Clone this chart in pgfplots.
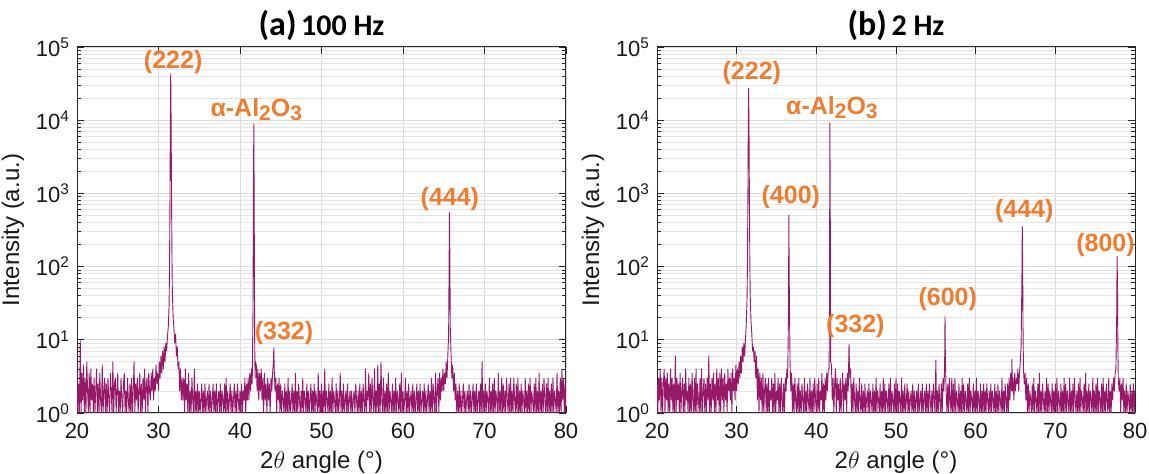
\documentclass[border=0pt]{standalone}
\usepackage{fontspec}
\setmainfont{Liberation Sans}
\newfontfamily\titlefont{Carlito}
\usepackage{pgfplots}
\pgfplotsset{compat=1.18}
\definecolor{xrdline}{RGB}{150,25,105}
\definecolor{lab}{RGB}{237,125,49}
\definecolor{axc}{RGB}{38,38,38}
\tikzset{pk/.style={font=\fontsize{12.5}{14}\selectfont\bfseries, text=lab, inner sep=0pt}}
\newcommand{\sub}[1]{\raisebox{-0.3ex}{\fontsize{10.5}{11}\selectfont #1}}
\begin{document}
\begin{tikzpicture}
\path[use as bounding box] (0pt,0pt) rectangle (574.5pt,237pt);
\begin{axis}[at={(38.5pt,30.5pt)}, anchor=south west,
  scale only axis, width=244.5pt, height=183pt,
  ymode=log, xmin=20, xmax=80, ymin=1, ymax=1e5,
  xtick={20,30,...,80},
  ytick={1,10,100,1000,10000,100000},
  yticklabels={10\textsuperscript{0},10\textsuperscript{1},10\textsuperscript{2},10\textsuperscript{3},10\textsuperscript{4},10\textsuperscript{5}},
  grid=both,
  major grid style={draw=black!14, line width=0.4pt},
  minor grid style={draw=black!10, line width=0.35pt},
  tick align=inside,
  axis line style={draw=axc, line width=0.5pt},
  major tick style={draw=axc, line width=0.45pt},
  minor tick style={draw=axc, line width=0.35pt},
  major tick length=3.5pt, minor tick length=2pt,
  tick label style={font=\fontsize{11}{12}\selectfont, text=black!90},
  xticklabel style={yshift=-1.5pt},
  label style={font=\fontsize{12}{14}\selectfont, text=black!90},
  xlabel={2$\theta$ angle (°)},
  ylabel={Intensity (a.u.)},
  xlabel style={yshift=0.5pt},
  ylabel style={yshift=-1pt},
  title style={at={(0.5,1)}, anchor=base, yshift=-0.5pt, inner sep=0pt},
  title={\titlefont\bfseries{\fontsize{17}{19}\selectfont(a)} {\fontsize{15}{17}\selectfont 100 Hz}},
  /pgf/number format/assume math mode=true]
\addplot[xrdline, line width=0.45pt, line join=round] coordinates {
(20.0,3)(20.1,1)(20.2,2.5)(20.3,1)(20.4,10)(20.5,1)(20.6,3.5)(20.7,1.5)(20.8,4.5)(20.9,1)
(21.0,3)(21.1,1)(21.2,5)(21.3,2)(21.4,1)(21.5,3.5)(21.6,1)(21.7,4)(21.8,1.5)(21.9,2.5)
(22.0,1)(22.1,3)(22.2,1)(22.3,2)(22.4,4)(22.5,1)(22.6,2.5)(22.7,1)(22.8,3.5)(22.9,1.5)
(23.0,1)(23.1,4.5)(23.2,1)(23.3,2)(23.4,3)(23.5,1)(23.6,2.5)(23.7,1)(23.8,3)(23.9,1.5)
(24.0,1)(24.1,3.5)(24.2,2)(24.3,1)(24.4,5)(24.5,1)(24.6,2.5)(24.7,3)(24.8,1)(24.9,2)
(25.0,3.5)(25.1,1)(25.2,2)(25.3,1)(25.4,3)(25.5,1.5)(25.6,1)(25.7,2.5)(25.8,3.5)(25.9,1)
(26.0,2)(26.1,1)(26.2,3)(26.3,1.5)(26.4,1)(26.5,2.5)(26.6,1)(26.7,3)(26.8,1)(26.9,2)
(27.0,5)(27.1,1)(27.2,2.5)(27.3,1.5)(27.4,3)(27.5,1)(27.6,2)(27.7,3.5)(27.8,1)(27.9,2.5)
(28.0,1)(28.1,3)(28.2,1.5)(28.3,4)(28.4,1)(28.5,2.5)(28.6,3)(28.7,1)(28.8,3.5)(28.9,2)
(29.0,1.5)(29.1,3.5)(29.2,2)(29.3,4)(29.4,1.5)(29.5,3)(29.6,2)(29.7,4.5)(29.8,2.5)(29.9,3.5)
(30.0,2)(30.1,5)(30.2,3)(30.3,6)(30.4,3.5)(30.5,7)(30.6,4)(30.7,8)(30.8,5)(30.9,9)
(31.0,7)(31.1,11)(31.2,15)(31.3,30)(31.35,90)(31.4,600)(31.45,8000)(31.5,43000)(31.55,9000)(31.6,900)
(31.65,150)(31.7,45)(31.8,20)(31.9,14)(32.0,9)(32.1,12)(32.2,6)(32.3,8)(32.4,4)(32.5,5)
(32.6,2)(32.7,4)(32.8,1.5)(32.9,3)(33.0,1.5)
(33.1,3)(33.2,1)(33.3,4)(33.4,1.5)(33.5,2.5)(33.6,1)(33.7,3.5)(33.8,1)(33.9,2)
(34.0,1)(34.1,3)(34.2,1.5)(34.3,1)(34.4,4)(34.5,1)(34.6,2)(34.7,1)(34.8,2.5)(34.9,1)
(35.0,2)(35.1,1)(35.2,1.5)(35.3,2.5)(35.4,1)(35.5,2)(35.6,1)(35.7,2.5)(35.8,1)(35.9,1.5)
(36.0,2)(36.1,1)(36.2,2.5)(36.3,1)(36.4,2)(36.5,1)(36.6,1.5)(36.7,2.5)(36.8,1)(36.9,2)
(37.0,1)(37.1,2.5)(37.2,1)(37.3,1.5)(37.4,2)(37.5,1)(37.6,2.5)(37.7,1)(37.8,2)(37.9,1.5)
(38.0,1)(38.1,2.5)(38.2,1)(38.3,3)(38.4,1)(38.5,2)(38.6,1)(38.7,1.5)(38.8,2.5)(38.9,1)
(39.0,2)(39.1,1)(39.2,1.5)(39.3,2.5)(39.4,1)(39.5,2)(39.6,1)(39.7,2.5)(39.8,1.5)(39.9,1)
(40.0,2)(40.1,1)(40.2,2.5)(40.3,1)(40.4,2)(40.5,1.5)(40.6,3)(40.7,1)(40.8,2.5)(40.9,1.5)
(41.0,3)(41.1,1.5)(41.2,3.5)(41.3,2)(41.4,4)(41.5,2.5)(41.6,30)(41.65,1500)(41.7,8800)(41.75,400)
(41.8,10)(41.85,3)(41.9,5)(42.0,4.5)
(42.1,2)(42.2,4)(42.3,1.5)(42.4,3.5)(42.5,2)(42.6,4)(42.7,1.5)(42.8,3)(42.9,1)
(43.0,3.5)(43.1,1.5)(43.2,2.5)(43.3,1)(43.4,3)(43.5,1.5)(43.6,2.5)(43.7,1)(43.8,3)(43.9,2)
(44.0,3.5)(44.1,5)(44.15,7.7)(44.2,4)(44.3,2)(44.4,3)(44.5,1)(44.6,2.5)(44.7,1.5)(44.8,3)(44.9,1)
(45.0,2.5)(45.1,1)(45.2,2)(45.3,1.5)(45.4,1)(45.5,2.5)(45.6,1)(45.7,2)(45.8,1)(45.9,3)
(46.0,1)(46.1,2)(46.2,1)(46.3,1.5)(46.4,2.5)(46.5,1)(46.6,2)(46.7,1)(46.8,3.5)(46.9,1)
(47.0,2)(47.1,1)(47.2,2.5)(47.3,1.5)(47.4,1)(47.5,2)(47.6,1)(47.7,3)(47.8,1)(47.9,2)
(48.0,1.5)(48.1,1)(48.2,2.5)(48.3,1)(48.4,2)(48.5,1)(48.6,1.5)(48.7,2.5)(48.8,1)(48.9,2)
(49.0,1)(49.1,2.5)(49.2,1)(49.3,2)(49.4,1.5)(49.5,1)(49.6,3.5)(49.7,1)(49.8,2)(49.9,1)
(50.0,2.5)(50.1,1)(50.2,2)(50.3,1)(50.4,4)(50.5,1)(50.6,2)(50.7,1.5)(50.8,1)(50.9,2.5)
(51.0,1)(51.1,2)(51.2,1)(51.3,3)(51.4,1)(51.5,2)(51.6,1.5)(51.7,1)(51.8,2.5)(51.9,1)
(52.0,2)(52.1,1)(52.2,1.5)(52.3,3.5)(52.4,1)(52.5,2)(52.6,1)(52.7,2.5)(52.8,1)(52.9,1.5)
(53.0,2)(53.1,1)(53.2,2.5)(53.3,1)(53.4,1.5)(53.5,2)(53.6,1)(53.7,2)(53.8,1)(53.9,1.5)
(54.0,2)(54.1,1)(54.2,2.5)(54.3,1.5)(54.4,1)(54.5,2)(54.6,1)(54.7,2.5)(54.8,1)(54.9,2)
(55.0,1)(55.1,2.5)(55.2,1.5)(55.3,1)(55.4,4)(55.5,1)(55.6,2)(55.7,1.5)(55.8,3.5)(55.9,1)
(56.0,2.5)(56.1,1)(56.2,3)(56.3,1.5)(56.4,1)(56.5,4)(56.6,1)(56.7,2)(56.8,1)(56.9,4.5)
(57.0,1)(57.1,2.5)(57.2,1)(57.3,5)(57.4,1.5)(57.5,1)(57.6,3)(57.7,1)(57.8,2)(57.9,1)
(58.0,2.5)(58.1,1)(58.2,3.5)(58.3,1)(58.4,2)(58.5,1.5)(58.6,1)(58.7,2.5)(58.8,1)(58.9,2)
(59.0,1)(59.1,3)(59.2,1)(59.3,2)(59.4,1.5)(59.5,1)(59.6,2.5)(59.7,1)(59.8,3.5)(59.9,1)
(60.0,2)(60.1,1)(60.2,1.5)(60.3,3)(60.4,1)(60.5,2)(60.6,1)(60.7,2.5)(60.8,1)(60.9,1.5)
(61.0,2)(61.1,1)(61.2,2.5)(61.3,1)(61.4,2)(61.5,1)(61.6,1.5)(61.7,2.5)(61.8,1)(61.9,2)
(62.0,1)(62.1,2.5)(62.2,1)(62.3,1.5)(62.4,2)(62.5,1)(62.6,2.5)(62.7,1)(62.8,2)(62.9,1)
(63.0,1.5)(63.1,2.5)(63.2,1)(63.3,2)(63.4,1)(63.5,3)(63.6,1)(63.7,2.5)(63.8,1.5)(63.9,1)
(64.0,3.5)(64.1,1)(64.2,2)(64.3,3)(64.4,1)(64.5,3.5)(64.6,1.5)(64.7,3)(64.8,2)(64.9,4)
(65.0,2)(65.1,3.5)(65.2,2.5)(65.3,5)(65.4,3)(65.5,6)(65.6,12)(65.65,80)(65.7,545)(65.75,150)
(65.8,15)(65.9,6)(66.0,3)(66.1,4.5)(66.2,2)(66.3,3.5)(66.4,1.5)(66.5,2.5)(66.6,1)(66.7,2)(66.8,1)(66.9,2.5)
(67.0,1)(67.1,2)(67.2,1)(67.3,1.5)(67.4,2.5)(67.5,1)(67.6,2)(67.7,1)(67.8,1.5)(67.9,2)
(68.0,1)(68.1,2.5)(68.2,1)(68.3,2)(68.4,1)(68.5,1.5)(68.6,2.5)(68.7,1)(68.8,2)(68.9,1)
(69.0,2.5)(69.1,1)(69.2,1.5)(69.3,2)(69.4,1)(69.5,2.5)(69.6,1)(69.7,5)(69.8,1)(69.9,2)
(70.0,1)(70.1,2.5)(70.2,1)(70.3,2)(70.4,1.5)(70.5,1)(70.6,3)(70.7,1)(70.8,2)(70.9,1)
(71.0,2.5)(71.1,1)(71.2,3)(71.3,1)(71.4,2)(71.5,1.5)(71.6,1)(71.7,3.5)(71.8,1)(71.9,2)
(72.0,1)(72.1,3)(72.2,1)(72.3,2.5)(72.4,1)(72.5,2)(72.6,1)(72.7,3)(72.8,1.5)(72.9,1)
(73.0,2.5)(73.1,1)(73.2,3)(73.3,1)(73.4,2)(73.5,1)(73.6,3)(73.7,1.5)(73.8,1)(73.9,2.5)
(74.0,1)(74.1,3)(74.2,1)(74.3,2)(74.4,1)(74.5,2.5)(74.6,1)(74.7,2)(74.8,1.5)(74.9,1)
(75.0,3)(75.1,1)(75.2,2)(75.3,1)(75.4,2.5)(75.5,1)(75.6,3)(75.7,1)(75.8,2)(75.9,1.5)
(76.0,1)(76.1,2.5)(76.2,1)(76.3,3)(76.4,1)(76.5,2)(76.6,1)(76.7,3.5)(76.8,1)(76.9,2)
(77.0,1)(77.1,2.5)(77.2,1)(77.3,3)(77.4,1.5)(77.5,1)(77.6,2.5)(77.7,1)(77.8,3)(77.9,1)
(78.0,2)(78.1,1)(78.2,2.5)(78.3,1)(78.4,3)(78.5,1)(78.6,2)(78.7,1.5)(78.8,1)(78.9,3.5)
(79.0,1)(79.1,2)(79.2,1)(79.3,3)(79.4,1)(79.5,4)(79.6,1.5)(79.7,3)(79.8,1)(79.9,2.5)(80.0,1)
};
\node[pk] at (axis cs:31.8,6.2e4) {(222)};
\node[pk] at (axis cs:42.0,1.38e4) {α-Al\sub{2}O\sub{3}};
\node[pk] at (axis cs:65.75,830) {(444)};
\node[pk] at (axis cs:45.4,12.3) {(332)};
\end{axis}
\begin{axis}[at={(328.5pt,30.5pt)}, anchor=south west,
  scale only axis, width=239pt, height=183pt,
  ymode=log, xmin=20, xmax=80, ymin=1, ymax=1e5,
  xtick={20,30,...,80},
  ytick={1,10,100,1000,10000,100000},
  yticklabels={10\textsuperscript{0},10\textsuperscript{1},10\textsuperscript{2},10\textsuperscript{3},10\textsuperscript{4},10\textsuperscript{5}},
  grid=both,
  major grid style={draw=black!14, line width=0.4pt},
  minor grid style={draw=black!10, line width=0.35pt},
  tick align=inside,
  axis line style={draw=axc, line width=0.5pt},
  major tick style={draw=axc, line width=0.45pt},
  minor tick style={draw=axc, line width=0.35pt},
  major tick length=3.5pt, minor tick length=2pt,
  tick label style={font=\fontsize{11}{12}\selectfont, text=black!90},
  xticklabel style={yshift=-1.5pt},
  label style={font=\fontsize{12}{14}\selectfont, text=black!90},
  xlabel={2$\theta$ angle (°)},
  ylabel={Intensity (a.u.)},
  xlabel style={yshift=0.5pt},
  ylabel style={yshift=-1pt},
  title style={at={(0.5,1)}, anchor=base, yshift=-0.5pt, inner sep=0pt},
  title={\titlefont\bfseries{\fontsize{17}{19}\selectfont(b)} {\fontsize{15}{17}\selectfont 2 Hz}},
  /pgf/number format/assume math mode=true]
\addplot[xrdline, line width=0.45pt, line join=round] coordinates {
(20.0,2.5)(20.1,1)(20.2,3)(20.3,1.5)(20.4,4)(20.5,1)(20.6,3)(20.7,1)(20.8,2.5)(20.9,4)
(21.0,1)(21.1,3)(21.2,1.5)(21.3,3.5)(21.4,1)(21.5,2.5)(21.6,1)(21.7,4)(21.8,1.5)(21.9,3)
(22.0,1)(22.1,2.5)(22.2,1)(22.3,6)(22.4,1)(22.5,3)(22.6,1.5)(22.7,2.5)(22.8,1)(22.9,3.5)
(23.0,1)(23.1,2)(23.2,3)(23.3,1)(23.4,2.5)(23.5,1)(23.6,4)(23.7,1.5)(23.8,2)(23.9,1)
(24.0,3)(24.1,1)(24.2,2.5)(24.3,1)(24.4,3.5)(24.5,1.5)(24.6,1)(24.7,3)(24.8,1)(24.9,4)
(25.0,1)(25.1,2.5)(25.2,1.5)(25.3,1)(25.4,3)(25.5,1)(25.6,4)(25.7,1)(25.8,2)(25.9,3)
(26.0,1)(26.1,2.5)(26.2,1)(26.3,3)(26.4,1.5)(26.5,6)(26.6,1)(26.7,2.5)(26.8,1)(26.9,3)
(27.0,1.5)(27.1,3.5)(27.2,1)(27.3,2.5)(27.4,1)(27.5,4)(27.6,1.5)(27.7,3)(27.8,1)(27.9,3.5)
(28.0,1)(28.1,4)(28.2,1.5)(28.3,3)(28.4,1)(28.5,3.5)(28.6,1.5)(28.7,2.5)(28.8,1)(28.9,4)
(29.0,2)(29.1,3)(29.2,1.5)(29.3,3.5)(29.4,1)(29.5,4)(29.6,2)(29.7,3)(29.8,1.5)(29.9,4.5)
(30.0,2)(30.1,4)(30.2,2.5)(30.3,5)(30.4,3)(30.5,6)(30.6,3.5)(30.7,8)(30.8,5)(30.9,9)
(31.0,6)(31.1,10)(31.2,16)(31.3,35)(31.35,100)(31.4,600)(31.45,6000)(31.5,27300)(31.55,7000)(31.6,800)
(31.65,120)(31.7,40)(31.8,18)(31.9,12)(32.0,7)(32.1,8)(32.2,5)(32.3,7)(32.4,3)(32.5,6)
(32.6,1.5)(32.7,4)(32.8,1)(32.9,3.5)
(33.0,1.5)(33.1,3)(33.2,1)(33.3,3.5)(33.4,1)(33.5,2)(33.6,3)(33.7,1)(33.8,2.5)(33.9,1)
(34.0,3)(34.1,1)(34.2,2)(34.3,1.5)(34.4,3)(34.5,1)(34.6,2.5)(34.7,1)(34.8,3.5)(34.9,1)
(35.0,2)(35.1,1.5)(35.2,3)(35.3,1)(35.4,2.5)(35.5,1)(35.6,3)(35.7,1.5)(35.8,1)(35.9,2.5)
(36.0,1)(36.1,3)(36.2,2)(36.3,4)(36.4,3)(36.5,20)(36.55,500)(36.6,60)(36.7,5)(36.8,2)(36.9,3.5)
(37.0,1)(37.1,2.5)(37.2,1)(37.3,3)(37.4,1.5)(37.5,1)(37.6,2.5)(37.7,1)(37.8,3)(37.9,1)
(38.0,2)(38.1,1)(38.2,2.5)(38.3,1.5)(38.4,1)(38.5,3)(38.6,1)(38.7,2)(38.8,1)(38.9,2.5)
(39.0,1.5)(39.1,1)(39.2,3)(39.3,1)(39.4,2)(39.5,1)(39.6,2.5)(39.7,1)(39.8,3)(39.9,1.5)
(40.0,1)(40.1,2.5)(40.2,1)(40.3,3)(40.4,1)(40.5,2)(40.6,1.5)(40.7,3.5)(40.8,1)(40.9,2.5)
(41.0,1)(41.1,3)(41.2,1.5)(41.3,3.5)(41.4,2)(41.5,4)(41.6,4)(41.65,30)(41.7,9100)(41.75,500)
(41.8,5)(41.9,4.5)(42.0,1.5)
(42.1,3)(42.2,1)(42.3,2.5)(42.4,4)(42.5,1)(42.6,3)(42.7,1.5)(42.8,2.5)(42.9,1)
(43.0,3)(43.1,1)(43.2,2)(43.3,3.5)(43.4,1)(43.5,2.5)(43.6,1.5)(43.7,3)(43.8,1)(43.9,3.5)
(44.0,2)(44.1,8.7)(44.2,3)(44.3,4)(44.4,1)(44.5,2.5)(44.6,1)(44.7,3)(44.8,1.5)(44.9,1)
(45.0,2.5)(45.1,1)(45.2,2)(45.3,1)(45.4,3)(45.5,1.5)(45.6,1)(45.7,2.5)(45.8,1)(45.9,2)
(46.0,1)(46.1,2.5)(46.2,1)(46.3,1.5)(46.4,2)(46.5,1)(46.6,2.5)(46.7,1)(46.8,2)(46.9,1.5)
(47.0,1)(47.1,2.5)(47.2,1)(47.3,2)(47.4,1)(47.5,3)(47.6,1)(47.7,2)(47.8,1.5)(47.9,1)
(48.0,2.5)(48.1,1)(48.2,2)(48.3,1)(48.4,3)(48.5,1)(48.6,2.5)(48.7,1)(48.8,2)(48.9,1.5)
(49.0,1)(49.1,2.5)(49.2,1)(49.3,3)(49.4,1)(49.5,2)(49.6,1.5)(49.7,1)(49.8,2.5)(49.9,1)
(50.0,3)(50.1,1)(50.2,2.5)(50.3,1)(50.4,2)(50.5,1.5)(50.6,1)(50.7,3)(50.8,1)(50.9,2)
(51.0,1)(51.1,2.5)(51.2,1)(51.3,1.5)(51.4,2.5)(51.5,1)(51.6,2)(51.7,1)(51.8,1.5)(51.9,2)
(52.0,1)(52.1,2.5)(52.2,1)(52.3,2)(52.4,1)(52.5,1.5)(52.6,2)(52.7,1)(52.8,2.5)(52.9,1)
(53.0,1.5)(53.1,2)(53.2,1)(53.3,2.5)(53.4,1)(53.5,1.5)(53.6,2)(53.7,1)(53.8,2.5)(53.9,1)
(54.0,2)(54.1,1)(54.2,2.5)(54.3,1.5)(54.4,1)(54.5,2)(54.6,1)(54.7,2.5)(54.8,1.5)(54.9,1)
(55.0,5.3)(55.1,1)(55.2,2)(55.3,1)(55.4,2.5)(55.5,1.5)(55.6,1)(55.7,2.5)(55.8,1)(55.9,3)
(56.0,2)(56.1,4)(56.15,20.8)(56.2,5)(56.3,2)(56.4,1)(56.5,2.5)(56.6,1)(56.7,3)(56.8,1.5)(56.9,1)
(57.0,3)(57.1,1)(57.2,2.5)(57.3,1)(57.4,3)(57.5,1)(57.6,2)(57.7,1.5)(57.8,1)(57.9,2.5)
(58.0,1)(58.1,2)(58.2,1)(58.3,3)(58.4,1)(58.5,2.5)(58.6,1)(58.7,2)(58.8,1.5)(58.9,1)
(59.0,2.5)(59.1,1)(59.2,3)(59.3,1)(59.4,2)(59.5,1.5)(59.6,1)(59.7,2.5)(59.8,1)(59.9,2)
(60.0,1)(60.1,3)(60.2,1)(60.3,2)(60.4,1.5)(60.5,1)(60.6,2.5)(60.7,1)(60.8,2)(60.9,1)
(61.0,2.5)(61.1,1)(61.2,2)(61.3,1)(61.4,2.5)(61.5,1.5)(61.6,1)(61.7,2)(61.8,1)(61.9,2.5)
(62.0,1)(62.1,2)(62.2,1.5)(62.3,1)(62.4,2.5)(62.5,1)(62.6,2)(62.7,1)(62.8,2.5)(62.9,1)
(63.0,2)(63.1,1.5)(63.2,1)(63.3,3)(63.4,1)(63.5,2)(63.6,1)(63.7,2.5)(63.8,1.5)(63.9,1)
(64.0,2.5)(64.1,1)(64.2,3)(64.3,1.5)(64.4,3.5)(64.5,2)(64.55,5.4)(64.6,2)(64.7,3)(64.8,1.5)(64.9,3.5)
(65.0,2)(65.1,3)(65.2,2.5)(65.3,4)(65.4,2)(65.5,3.5)(65.6,5)(65.7,8)(65.8,60)(65.85,355)
(65.9,100)(65.95,12)(66.0,4)(66.1,2.5)(66.2,3.5)(66.3,1.5)(66.4,3)(66.5,1)(66.6,2.5)(66.7,1)(66.8,2)(66.9,1.5)
(67.0,1)(67.1,2.5)(67.2,1)(67.3,3)(67.4,1)(67.5,2)(67.6,1.5)(67.7,1)(67.8,2.5)(67.9,1)
(68.0,3.5)(68.1,1)(68.2,2)(68.3,1)(68.4,2.5)(68.5,1.5)(68.6,1)(68.7,2)(68.8,1)(68.9,3)
(69.0,1)(69.1,2.5)(69.2,1)(69.3,2)(69.4,1.5)(69.5,1)(69.6,2.5)(69.7,1)(69.8,2)(69.9,1)
(70.0,2.5)(70.1,1)(70.2,3)(70.3,1)(70.4,2)(70.5,1.5)(70.6,1)(70.7,2.5)(70.8,1)(70.9,2)
(71.0,1)(71.1,3)(71.2,1)(71.3,2.5)(71.4,1)(71.5,2)(71.6,1.5)(71.7,1)(71.8,3)(71.9,1)
(72.0,2)(72.1,1)(72.2,2.5)(72.3,1)(72.4,3)(72.5,1.5)(72.6,1)(72.7,2)(72.8,1)(72.9,2.5)
(73.0,1)(73.1,3)(73.2,1)(73.3,2)(73.4,1.5)(73.5,1)(73.6,2.5)(73.7,1)(73.8,3.5)(73.9,1)
(74.0,2)(74.1,1)(74.2,2.5)(74.3,1)(74.4,2)(74.5,1.5)(74.6,1)(74.7,3)(74.8,1)(74.9,2)
(75.0,1)(75.1,2.5)(75.2,1)(75.3,3)(75.4,1)(75.5,2)(75.6,1.5)(75.7,1)(75.8,2.5)(75.9,1)
(76.0,3)(76.1,1)(76.2,2)(76.3,1)(76.4,2.5)(76.5,1.5)(76.6,1)(76.7,3)(76.8,1)(76.9,2)
(77.0,1)(77.1,2.5)(77.2,1.5)(77.3,3)(77.4,2)(77.5,3.5)(77.6,4)(77.7,20)(77.75,137)(77.8,60)
(77.85,8)(77.9,3)(78.0,2)
(78.1,3)(78.2,1)(78.3,2.5)(78.4,1.5)(78.5,3)(78.6,1)(78.7,2)(78.8,1)(78.9,2.5)
(79.0,1)(79.1,2)(79.2,1.5)(79.3,1)(79.4,2.5)(79.5,1)(79.6,2)(79.7,1)(79.8,2.5)(79.9,1)(80.0,2)
};
\node[pk] at (axis cs:31.9,4.4e4) {(222)};
\node[pk] at (axis cs:41.95,1.47e4) {α-Al\sub{2}O\sub{3}};
\node[pk] at (axis cs:36.8,890) {(400)};
\node[pk] at (axis cs:44.9,15.5) {(332)};
\node[pk] at (axis cs:56.5,35.5) {(600)};
\node[pk] at (axis cs:66.1,575) {(444)};
\node[pk] at (axis cs:76.3,200) {(800)};
\end{axis}
\end{tikzpicture}
\end{document}
